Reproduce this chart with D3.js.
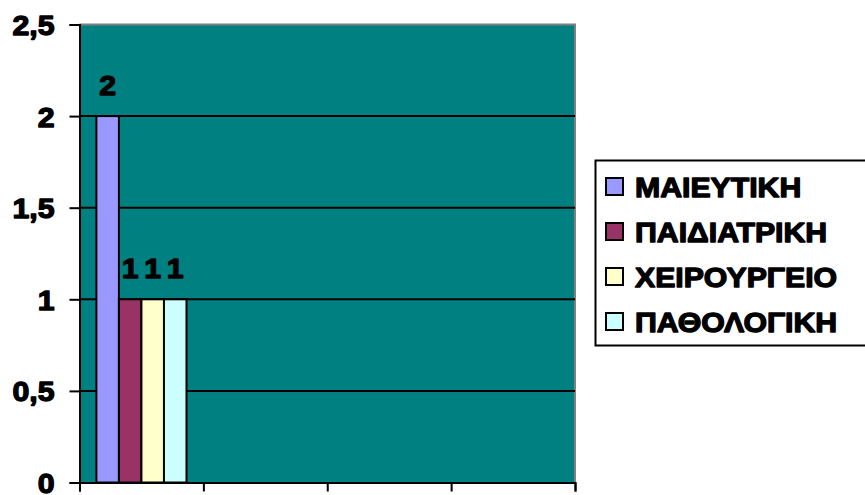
<!DOCTYPE html>
<html>
<head>
<meta charset="utf-8">
<script src="https://cdn.jsdelivr.net/npm/d3@7"></script>
<style>
  html, body { margin: 0; padding: 0; background: #fff; }
  svg { display: block; }
  text.lbl { font-family: Arial, "Liberation Sans", sans-serif; font-weight: bold; fill: #000; stroke: #000; stroke-width: 1.3px; stroke-linejoin: round; }
</style>
</head>
<body>
<svg id="chart" width="865" height="495"></svg>
<script>
// Departments (series) and their counts; only the first group carries values
const categories = ["A", "B", "C", "D"];
const seriesNames = ["ΜΑΙΕΥΤΙΚΗ", "ΠΑΙΔΙΑΤΡΙΚΗ", "ΧΕΙΡΟΥΡΓΕΙΟ", "ΠΑΘΟΛΟΓΙΚΗ"];
const maieutiki   = [2, null, null, null];
const paidiatriki = [1, null, null, null];
const xeirourgeio = [1, null, null, null];
const pathologiki = [1, null, null, null];
const seriesColors = ["#9999FF", "#993366", "#FFFFCC", "#CCFFFF"];
const yTicks = [0, 0.5, 1, 1.5, 2, 2.5];

const seriesValues = [maieutiki, paidiatriki, xeirourgeio, pathologiki];

const svg = d3.select("#chart");
const plot = { left: 79.5, right: 575, top: 24.5, bottom: 482.5 };
const SX = 1.08; // horizontal text stretch

const y = d3.scaleLinear().domain([0, 2.5]).range([plot.bottom, plot.top]);
const x0 = d3.scaleBand().domain(categories).range([plot.left, plot.right]).padding(0);
const x1 = d3.scaleBand().domain(seriesNames).range([0, x0.bandwidth()])
  .paddingInner(0).paddingOuter(0.75);
const xEdge = d3.scaleLinear().domain([0, categories.length]).range([plot.left, plot.right]);

// plot background
svg.append("rect")
  .attr("x", plot.left).attr("y", plot.top)
  .attr("width", plot.right - plot.left).attr("height", plot.bottom - plot.top)
  .attr("fill", "#008080");

// top and right frame
svg.append("path")
  .attr("d", `M${plot.left},${plot.top}H${plot.right}V${plot.bottom}`)
  .attr("fill", "none").attr("stroke", "#808080").attr("stroke-width", 2);

// horizontal gridlines
svg.append("g").selectAll("line")
  .data(yTicks.filter(t => t > 0 && t < 2.5))
  .join("line")
  .attr("x1", plot.left).attr("x2", plot.right)
  .attr("y1", d => y(d)).attr("y2", d => y(d))
  .attr("stroke", "#000").attr("stroke-width", 2);

// bars
const group = svg.append("g");
categories.forEach((c, ci) => {
  seriesNames.forEach((s, si) => {
    const v = seriesValues[si][ci];
    if (v == null) return;
    group.append("rect")
      .attr("x", x0(c) + x1(s))
      .attr("y", y(v))
      .attr("width", x1.bandwidth())
      .attr("height", y(0) - y(v))
      .attr("fill", seriesColors[si])
      .attr("stroke", "#000").attr("stroke-width", 2);
    group.append("text")
      .attr("class", "lbl")
      .attr("transform", `translate(${x0(c) + x1(s) + x1.bandwidth() / 2},${y(v) - 21}) scale(${SX},1)`)
      .attr("text-anchor", "middle")
      .attr("font-size", 28)
      .text(v);
  });
});

// y axis
const yAxis = svg.append("g")
  .attr("transform", `translate(${plot.left},0)`)
  .call(d3.axisLeft(y).tickValues(yTicks).tickSize(10).tickPadding(0)
    .tickFormat(d => String(d).replace(".", ",")));
yAxis.select(".domain").attr("stroke", "#000").attr("stroke-width", 2);
yAxis.selectAll(".tick line").attr("stroke", "#000").attr("stroke-width", 2);
yAxis.selectAll(".tick text").remove();
yAxis.selectAll(".tick").append("text")
  .attr("class", "lbl")
  .attr("transform", `translate(-25,0) scale(${SX},1)`)
  .attr("text-anchor", "end")
  .attr("dy", "0.36em")
  .attr("font-size", 28)
  .text(d => String(d).replace(".", ","));

// x axis with tick marks at group boundaries
const xAxis = svg.append("g")
  .attr("transform", `translate(0,${plot.bottom})`)
  .call(d3.axisBottom(xEdge).ticks(categories.length).tickSize(9).tickFormat(""));
xAxis.select(".domain").attr("stroke", "#000").attr("stroke-width", 2);
xAxis.selectAll(".tick line").attr("stroke", "#000").attr("stroke-width", 2);

// legend
const legend = svg.append("g");
legend.append("rect")
  .attr("x", 595.5).attr("y", 160.5).attr("width", 280).attr("height", 185)
  .attr("fill", "#fff").attr("stroke", "#000").attr("stroke-width", 2);
seriesNames.forEach((s, i) => {
  const cy = 187 + i * 45;
  legend.append("rect")
    .attr("x", 606).attr("y", cy - 9).attr("width", 17).attr("height", 17)
    .attr("fill", seriesColors[i]).attr("stroke", "#000").attr("stroke-width", 2);
  legend.append("text")
    .attr("class", "lbl")
    .attr("transform", `translate(635,${cy}) scale(${SX},1)`)
    .attr("dy", "0.36em")
    .attr("font-size", 28)
    .text(s);
});
</script>
</body>
</html>
